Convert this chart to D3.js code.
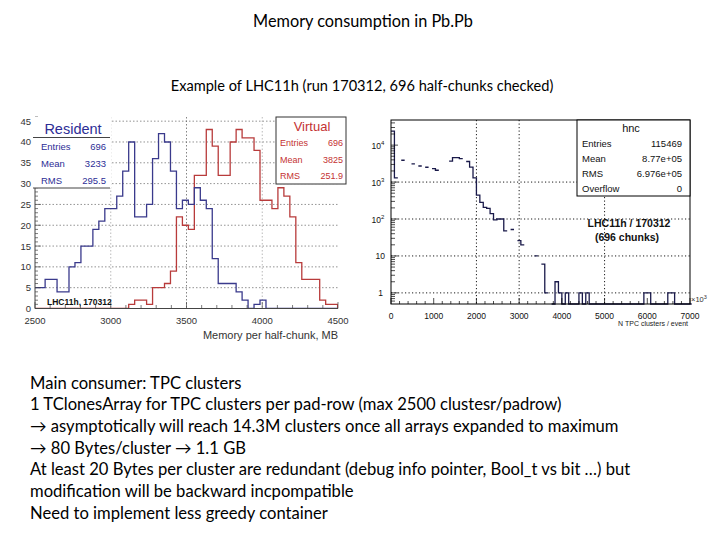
<!DOCTYPE html>
<html><head><meta charset="utf-8">
<script src="https://cdn.jsdelivr.net/npm/d3@7"></script>
<style>
html,body{margin:0;padding:0;background:#fff;}
svg{display:block;}
</style></head>
<body>
<svg id="c" width="720" height="540"></svg>
<script>
// ---------- DATA ----------
const slideTitle = "Memory consumption in Pb.Pb";
const slideSubtitle = "Example of LHC11h (run 170312, 696 half-chunks checked)";
const bodyLines = [
  "Main consumer: TPC clusters",
  "1 TClonesArray for TPC clusters per pad-row (max 2500 clustesr/padrow)",
  "\u2192 asymptotically will reach 14.3M clusters once all arrays expanded to maximum",
  "\u2192 80 Bytes/cluster \u2192 1.1 GB",
  "At least 20 Bytes per cluster are redundant (debug info pointer, Bool_t vs bit \u2026) but",
  "modification will be backward incpompatible",
  "Need to implement less greedy container"
];

// Left histogram: memory per half-chunk (MB)
const memBinStart = 2488;
const memBinWidth = 39.4;
const residentCounts = [5,5,7,7,4,4,10,11,15,15,19,21,24,24,27,33,40,22,22,25,36,42,40,33,24,26,25,29,26,24,12,6,6,6,4,2,0,1,2,0,0,0,0,0,0,0,0,0,0,0,0];
const virtualCounts  = [0,0,0,0,0,0,0,0,0,0,0,0,0,0,0,0,1,2,2,1,5,5,6,9,22,20,19,32,32,43,39,32,32,40,43,41,41,38,26,26,24,29,27,22,11,7,7,7,2,1,1];
const memXTicks = [2500,3000,3500,4000,4500];
const memYTicks = [0,5,10,15,20,25,30,35,40,45];
const residentStats = [["Entries","696"],["Mean","3233"],["RMS","295.5"]];
const virtualStats  = [["Entries","696"],["Mean","3825"],["RMS","251.9"]];

// Right histogram: N TPC clusters / event (x10^3), log y
const ncBinWidth = 80;
const ncCounts = [24000,1300,null,3900,null,null,3100,null,2720,null,2520,null,2320,2090,null,null,null,3700,4600,4600,4300,null,3600,2550,1300,445,282,207,195,140,95,100,100,48,null,52,null,26,20,null,null,null,10,null,6,1,null,0,2,1,0,1,0,0,0,1,0,1,0,0,0,0,0,0,0,0,0,0,0,0,0,0,0,0,1,1,0,0,0,0,0,1,1,0,0,0,0,0];
const ncXTicks = [0,1000,2000,3000,4000,5000,6000,7000];
const ncXGrid = [2000,3000,5000];
const ncYTicks = [1,10,100,1000,10000];
const ncYGrid = [1,10,100,1000];
const ncStats = [["Entries","115469"],["Mean","8.77e+05"],["RMS","6.976e+05"],["Overflow","0"]];

// ---------- DRAW ----------
const svg = d3.select("#c");
const FONT_SLIDE = "Lato, 'Open Sans', sans-serif";
const FONT_ROOT = "'Liberation Sans', Arial, Helvetica, sans-serif";

svg.append("text").attr("x",363).attr("y",27).attr("text-anchor","middle")
  .attr("font-family",FONT_SLIDE).attr("font-size",16.3).text(slideTitle);
svg.append("text").attr("x",362).attr("y",91).attr("text-anchor","middle")
  .attr("font-family",FONT_SLIDE).attr("font-size",14.6).text(slideSubtitle);

svg.append("g").selectAll("text").data(bodyLines).join("text")
  .attr("x",30).attr("y",(d,i)=>388.5 + i*21.7)
  .attr("font-family",FONT_SLIDE).attr("font-size",16.6).text(d=>d);

// ===== Left plot =====
const L = svg.append("g");
const xL = d3.scaleLinear().domain([2500,4500]).range([35,338]);
const yL = d3.scaleLinear().domain([0,46]).range([308.5,117]);
L.append("clipPath").attr("id","clipL").append("rect")
  .attr("x",35).attr("y",110).attr("width",303).attr("height",199);

// grid
L.append("g").selectAll("line").data(memYTicks.filter(d=>d>0)).join("line")
  .attr("x1",35).attr("x2",338).attr("y1",d=>yL(d)).attr("y2",d=>yL(d))
  .attr("stroke","#777").attr("stroke-width",0.8).attr("stroke-dasharray","1.5,2");
L.append("g").selectAll("line").data([3000,3500,4000]).join("line")
  .attr("x1",d=>xL(d)).attr("x2",d=>xL(d)).attr("y1",117).attr("y2",308.5)
  .attr("stroke",d=>d===3500?"#666":"#aaa").attr("stroke-width",0.8).attr("stroke-dasharray","1.5,2");

function stepPts(counts,start,width,xs,ys){
  const pts=[[xs(start),ys(0)]];
  counts.forEach((c,i)=>{
    pts.push([xs(start+i*width),ys(c)]);
    pts.push([xs(start+(i+1)*width),ys(c)]);
  });
  pts.push([xs(start+counts.length*width),ys(0)]);
  return pts;
}
const line = d3.line();
L.append("path").attr("clip-path","url(#clipL)")
  .attr("d",line(stepPts(virtualCounts,memBinStart,memBinWidth,xL,yL)))
  .attr("fill","none").attr("stroke","#b83b3b").attr("stroke-width",1.3);
L.append("path").attr("clip-path","url(#clipL)")
  .attr("d",line(stepPts(residentCounts,memBinStart,memBinWidth,xL,yL)))
  .attr("fill","none").attr("stroke","#3a3a8c").attr("stroke-width",1.3);

// axes
L.append("line").attr("x1",35).attr("x2",35).attr("y1",117).attr("y2",308.5).attr("stroke","#444");
L.append("line").attr("x1",35).attr("x2",338).attr("y1",308.5).attr("y2",308.5).attr("stroke","#444");
L.append("g").selectAll("line").data(d3.range(0,47,1)).join("line")
  .attr("x1",35).attr("x2",d=>d%5===0?41:38).attr("y1",d=>yL(d)).attr("y2",d=>yL(d))
  .attr("stroke","#444").attr("stroke-width",0.7);
L.append("g").selectAll("line").data(d3.range(2500,4501,100)).join("line")
  .attr("x1",d=>xL(d)).attr("x2",d=>xL(d)).attr("y1",308.5).attr("y2",d=>d%500===0?302:305)
  .attr("stroke","#444").attr("stroke-width",0.7);
L.append("g").selectAll("text").data(memYTicks).join("text")
  .attr("x",31).attr("y",d=>yL(d)+3.5).attr("text-anchor","end")
  .attr("font-family",FONT_ROOT).attr("font-size",9.5).attr("fill","#333").text(d=>d);
L.append("g").selectAll("text").data(memXTicks).join("text")
  .attr("x",d=>xL(d)).attr("y",324).attr("text-anchor","middle")
  .attr("font-family",FONT_ROOT).attr("font-size",9.5).attr("fill","#333").text(d=>d);
L.append("text").attr("x",338).attr("y",339).attr("text-anchor","end")
  .attr("font-family",FONT_ROOT).attr("font-size",11).attr("fill","#333")
  .text("Memory per half-chunk, MB");
L.append("text").attr("x",47).attr("y",305)
  .attr("font-family",FONT_ROOT).attr("font-size",8.5).attr("font-weight","bold").attr("fill","#111")
  .text("LHC11h, 170312");

// Resident box
const rb = L.append("g");
rb.append("rect").attr("x",33).attr("y",117).attr("width",78).attr("height",71).attr("fill","#fff");
rb.append("line").attr("x1",33).attr("x2",110).attr("y1",137.5).attr("y2",137.5).attr("stroke","#444");
rb.append("line").attr("x1",33).attr("x2",110).attr("y1",188).attr("y2",188).attr("stroke","#444");
rb.append("text").attr("x",73).attr("y",134).attr("text-anchor","middle")
  .attr("font-family",FONT_ROOT).attr("font-size",14.5).attr("fill","#2d2d96").text("Resident");
residentStats.forEach((r,i)=>{
  rb.append("text").attr("x",41).attr("y",149.5+i*17.3).attr("font-family",FONT_ROOT)
    .attr("font-size",9.5).attr("fill","#2d2d96").text(r[0]);
  rb.append("text").attr("x",106).attr("y",149.5+i*17.3).attr("text-anchor","end").attr("font-family",FONT_ROOT)
    .attr("font-size",9.5).attr("fill","#2d2d96").text(r[1]);
});
// Virtual box
const vb = L.append("g");
vb.append("rect").attr("x",276).attr("y",117).attr("width",70).attr("height",67)
  .attr("fill","#fff").attr("stroke","#333").attr("stroke-width",1);
vb.append("text").attr("x",312).attr("y",131).attr("text-anchor","middle")
  .attr("font-family",FONT_ROOT).attr("font-size",13).attr("fill","#c43232").text("Virtual");
virtualStats.forEach((r,i)=>{
  vb.append("text").attr("x",280).attr("y",146+i*16.5).attr("font-family",FONT_ROOT)
    .attr("font-size",9).attr("fill","#c43232").text(r[0]);
  vb.append("text").attr("x",343).attr("y",146+i*16.5).attr("text-anchor","end").attr("font-family",FONT_ROOT)
    .attr("font-size",9).attr("fill","#c43232").text(r[1]);
});

// ===== Right plot =====
const R = svg.append("g");
const xR = d3.scaleLinear().domain([0,7000]).range([391,690]);
const yR = d3.scaleLog().domain([0.5,47900]).range([304,120]);

// grid
R.append("g").selectAll("line").data(ncYGrid).join("line")
  .attr("x1",391).attr("x2",690).attr("y1",d=>yR(d)).attr("y2",d=>yR(d))
  .attr("stroke","#000").attr("stroke-width",0.9).attr("stroke-dasharray","1.2,2.3");
R.append("g").selectAll("line").data(ncXGrid).join("line")
  .attr("x1",d=>xR(d)).attr("x2",d=>xR(d)).attr("y1",120).attr("y2",304)
  .attr("stroke","#000").attr("stroke-width",0.9).attr("stroke-dasharray","1.2,2.3");

// histogram
const ncPts=[];
ncCounts.forEach((c,i)=>{
  const v = c===null?null:Math.max(c,0.5);
  ncPts.push({x:i*ncBinWidth,v:v});
  ncPts.push({x:(i+1)*ncBinWidth,v:v});
});
const lineR = d3.line().defined(d=>d.v!==null).x(d=>xR(d.x)).y(d=>yR(d.v));
R.append("path").attr("d",lineR(ncPts)).attr("fill","none")
  .attr("stroke","#1a1a4a").attr("stroke-width",1.3);

// frame
R.append("rect").attr("x",391).attr("y",120).attr("width",299).attr("height",184)
  .attr("fill","none").attr("stroke","#000").attr("stroke-width",1);
// ticks
const yMinor=[];
[1,10,100,1000,10000].forEach(d=>{for(let k=1;k<10;k++){const v=d*k; if(v<=47900) yMinor.push(v);}});
yMinor.push(0.6,0.7,0.8,0.9);
R.append("g").selectAll("line").data(yMinor).join("line")
  .attr("x1",391).attr("x2",d=>ncYTicks.includes(d)?398:395).attr("y1",d=>yR(d)).attr("y2",d=>yR(d))
  .attr("stroke","#000").attr("stroke-width",0.7);
R.append("g").selectAll("line").data(d3.range(0,7001,200)).join("line")
  .attr("x1",d=>xR(d)).attr("x2",d=>xR(d)).attr("y1",304).attr("y2",d=>d%1000===0?298:301)
  .attr("stroke","#000").attr("stroke-width",0.7);
const yl = R.append("g").selectAll("text").data(ncYTicks).join("text")
  .attr("x",d=>d===1?383:d===10?385:378).attr("y",d=>yR(d)+3.5).attr("text-anchor",d=>d<=10?"end":"middle")
  .attr("font-family",FONT_ROOT).attr("font-size",8.5).attr("fill","#111");
yl.each(function(d){
  const t=d3.select(this);
  if(d<=10){t.text(d);}
  else{t.append("tspan").text("10");
    t.append("tspan").attr("dy",-3.5).attr("font-size",6).text(Math.round(Math.log10(d)));}
});
R.append("g").selectAll("text").data(ncXTicks).join("text")
  .attr("x",d=>xR(d)).attr("y",319).attr("text-anchor","middle")
  .attr("font-family",FONT_ROOT).attr("font-size",8.5).attr("fill","#111").text(d=>d);
const mul = R.append("text").attr("x",691).attr("y",302).attr("font-family",FONT_ROOT)
  .attr("font-size",7.5).attr("fill","#333");
mul.append("tspan").text("\u00d710");
mul.append("tspan").attr("dy",-3).attr("font-size",5.5).text("3");
R.append("text").attr("x",688).attr("y",326).attr("text-anchor","end")
  .attr("font-family",FONT_ROOT).attr("font-size",7).attr("fill","#222").text("N TPC clusters / event");

// stats box
const sb = R.append("g");
sb.append("rect").attr("x",577).attr("y",120).attr("width",113).attr("height",76)
  .attr("fill","#fff").attr("stroke","#000").attr("stroke-width",1);
sb.append("text").attr("x",631).attr("y",132).attr("text-anchor","middle")
  .attr("font-family",FONT_ROOT).attr("font-size",11).attr("fill","#111").text("hnc");
ncStats.forEach((r,i)=>{
  sb.append("text").attr("x",582).attr("y",147+i*15).attr("font-family",FONT_ROOT)
    .attr("font-size",9.5).attr("fill","#111").text(r[0]);
  sb.append("text").attr("x",682).attr("y",147+i*15).attr("text-anchor","end").attr("font-family",FONT_ROOT)
    .attr("font-size",9.5).attr("fill","#111").text(r[1]);
});
R.append("text").attr("x",629).attr("y",227).attr("text-anchor","middle")
  .attr("font-family",FONT_ROOT).attr("font-size",10.5).attr("font-weight","bold").attr("fill","#111").text("LHC11h / 170312");
R.append("text").attr("x",627).attr("y",241).attr("text-anchor","middle")
  .attr("font-family",FONT_ROOT).attr("font-size",10.5).attr("font-weight","bold").attr("fill","#111").text("(696 chunks)");
</script>
</body></html>
